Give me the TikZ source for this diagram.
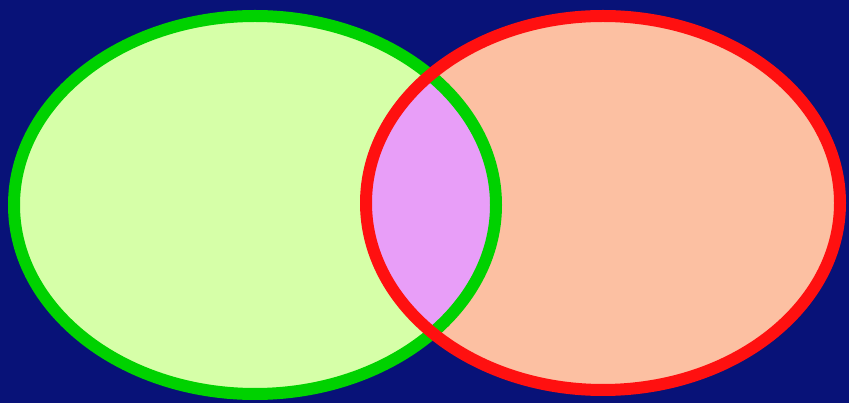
\documentclass[tikz,border=0pt]{standalone}
\begin{document}
\begin{tikzpicture}[x=1pt,y=-1pt]
\definecolor{navy}{RGB}{8,18,120}
\definecolor{gfill}{RGB}{214,255,168}
\definecolor{rfill}{RGB}{252,192,162}
\definecolor{vfill}{RGB}{232,158,248}
\definecolor{gline}{RGB}{0,210,0}
\definecolor{rline}{RGB}{255,16,16}
\tikzset{ring/.style={line width=12pt}}
\fill[navy] (0,0) rectangle (849,403);
\useasboundingbox (0,0) rectangle (849,403);
\coordinate (gc) at (255,205);
\coordinate (rc) at (603,203);
\fill[gfill] (gc) ellipse [x radius=241, y radius=189];
\fill[rfill] (rc) ellipse [x radius=237, y radius=187];
\begin{scope}
\clip (gc) ellipse [x radius=241, y radius=189];
\fill[vfill] (rc) ellipse [x radius=237, y radius=187];
\end{scope}
\draw[ring,gline] (gc) ellipse [x radius=241, y radius=189];
\draw[ring,rline] (rc) ellipse [x radius=237, y radius=187];
\end{tikzpicture}
\end{document}
